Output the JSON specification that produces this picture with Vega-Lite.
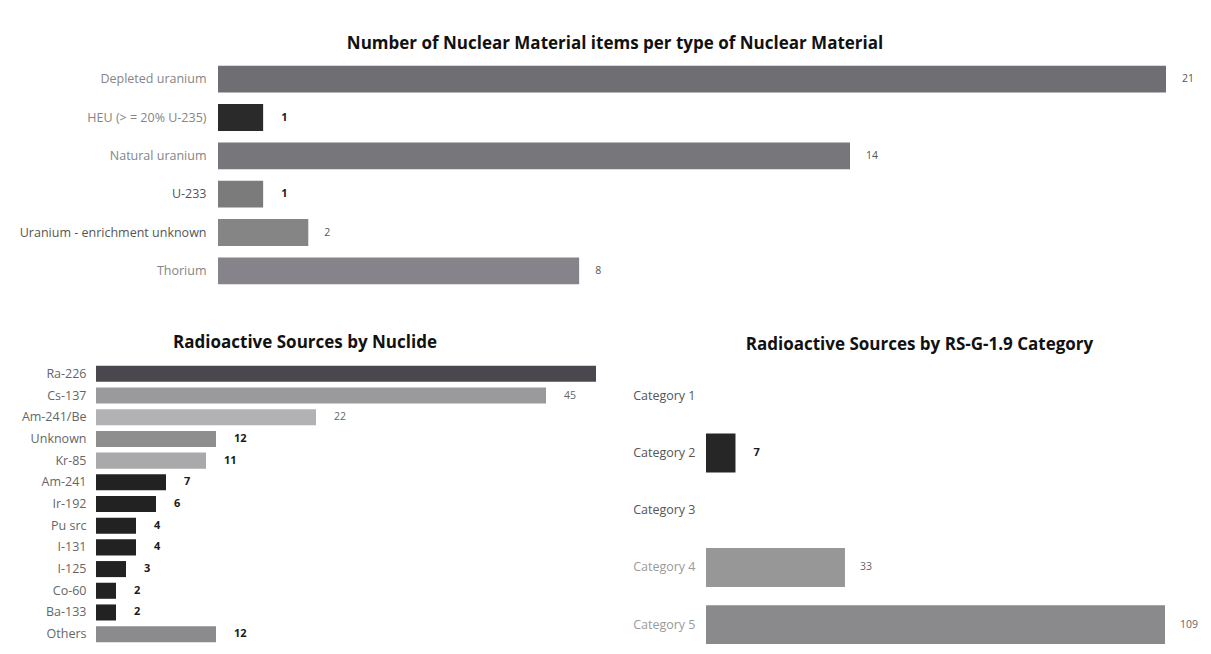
{
  "$schema": "https://vega.github.io/schema/vega-lite/v6.json",
  "background": "white",
  "padding": {"left": 18, "top": 35, "right": 0, "bottom": 0},
  "config": {
    "view": {"stroke": null},
    "font": "Open Sans",
    "title": {"font": "Open Sans", "fontSize": 17, "fontWeight": "bold", "color": "#111111", "anchor": "middle", "frame": "group"},
    "axis": {"labelFont": "Open Sans", "labelColor": "#6e6e6e", "labelFontSize": 12.5}
  },
  "resolve": {"scale": {"color": "independent"}},
  "columns": 1,
  "align": "none",
  "spacing": 44,
  "concat": [
    {
      "title": {"text": "Number of Nuclear Material items per type of Nuclear Material", "dx": -16, "offset": 7},
      "width": 1070,
      "height": 230,
      "data": {"values": [
        {"type": "Depleted uranium", "count": 21},
        {"type": "HEU (> = 20% U-235)", "count": 1},
        {"type": "Natural uranium", "count": 14},
        {"type": "U-233", "count": 1},
        {"type": "Uranium - enrichment unknown", "count": 2},
        {"type": "Thorium", "count": 8}
      ]},
      "encoding": {
        "y": {"field": "type", "type": "nominal", "sort": null,
              "scale": {"paddingInner": 0.3, "paddingOuter": 0.15},
              "axis": {"title": null, "ticks": false, "domain": false, "offset": -122, "labelPadding": 12, "labelLimit": 220,
                       "labelColor": {"condition": {"test": "datum.value === 'U-233' || datum.value === 'Uranium - enrichment unknown'", "value": "#555555"}, "value": "#858585"}}},
        "x": {"field": "count", "type": "quantitative", "scale": {"domain": [0, 21], "range": [122, 1070]}, "axis": null}
      },
      "layer": [
        {"mark": {"type": "bar"},
         "encoding": {"color": {"field": "type", "type": "nominal", "legend": null,
           "scale": {"domain": ["Depleted uranium", "HEU (> = 20% U-235)", "Natural uranium", "U-233", "Uranium - enrichment unknown", "Thorium"],
                     "range": ["#6f6e72", "#2a2a2a", "#77767a", "#7b7b7b", "#858585", "#86848a"]}}}},
        {"transform": [{"filter": {"field": "type", "oneOf": ["HEU (> = 20% U-235)", "U-233"]}}],
         "mark": {"type": "text", "align": "left", "dx": 18, "fontWeight": "bold", "fontSize": 11, "color": "#1a1a1a"},
         "encoding": {"text": {"field": "count", "type": "quantitative"}}},
        {"transform": [{"filter": {"not": {"field": "type", "oneOf": ["HEU (> = 20% U-235)", "U-233"]}}}],
         "mark": {"type": "text", "align": "left", "dx": 16, "fontSize": 10.5, "color": "#555555"},
         "encoding": {"text": {"field": "count", "type": "quantitative"}}}
      ]
    },
    {
      "resolve": {"scale": {"color": "independent"}},
      "columns": 2,
      "align": "none",
      "spacing": 30,
      "concat": [
        {
          "title": {"text": "Radioactive Sources by Nuclide", "dx": -41, "offset": 11},
          "width": 500,
          "height": 282,
          "data": {"values": [
            {"nuclide": "Ra-226", "count": 50},
            {"nuclide": "Cs-137", "count": 45},
            {"nuclide": "Am-241/Be", "count": 22},
            {"nuclide": "Unknown", "count": 12},
            {"nuclide": "Kr-85", "count": 11},
            {"nuclide": "Am-241", "count": 7},
            {"nuclide": "Ir-192", "count": 6},
            {"nuclide": "Pu src", "count": 4},
            {"nuclide": "I-131", "count": 4},
            {"nuclide": "I-125", "count": 3},
            {"nuclide": "Co-60", "count": 2},
            {"nuclide": "Ba-133", "count": 2},
            {"nuclide": "Others", "count": 12}
          ]},
          "encoding": {
            "y": {"field": "nuclide", "type": "nominal", "sort": null,
                  "scale": {"paddingInner": 0.26, "paddingOuter": 0.13},
                  "axis": {"title": null, "ticks": false, "domain": false, "labelPadding": 10, "minExtent": 78, "maxExtent": 78, "labelColor": "#666666"}},
            "x": {"field": "count", "type": "quantitative", "scale": {"domain": [0, 50]}, "axis": null}
          },
          "layer": [
            {"mark": {"type": "bar"},
             "encoding": {"color": {"field": "nuclide", "type": "nominal", "legend": null,
               "scale": {"domain": ["Ra-226", "Cs-137", "Am-241/Be", "Unknown", "Kr-85", "Am-241", "Ir-192", "Pu src", "I-131", "I-125", "Co-60", "Ba-133", "Others"],
                         "range": ["#4a484e", "#9a999c", "#b2b1b4", "#8e8e8e", "#a9a8ab", "#222222", "#222222", "#222222", "#222222", "#222222", "#222222", "#222222", "#8b8a8d"]}}}},
            {"transform": [{"filter": {"not": {"field": "nuclide", "oneOf": ["Ra-226", "Cs-137", "Am-241/Be"]}}}],
             "mark": {"type": "text", "align": "left", "dx": 18, "fontWeight": "bold", "fontSize": 11, "color": "#1a1a1a"},
             "encoding": {"text": {"field": "count", "type": "quantitative"}}},
            {"transform": [{"filter": {"field": "nuclide", "oneOf": ["Ra-226", "Cs-137", "Am-241/Be"]}}],
             "mark": {"type": "text", "align": "left", "dx": 18, "fontSize": 10.5, "color": "#666666", "clip": true},
             "encoding": {"text": {"field": "count", "type": "quantitative"}}}
          ]
        },
        {
          "title": {"text": "Radioactive Sources by RS-G-1.9 Category", "dx": -16, "offset": 9},
          "width": 459,
          "height": 290,
          "data": {"values": [
            {"category": "Category 1", "count": 0},
            {"category": "Category 2", "count": 7},
            {"category": "Category 3", "count": 0},
            {"category": "Category 4", "count": 33},
            {"category": "Category 5", "count": 109}
          ]},
          "encoding": {
            "y": {"field": "category", "type": "nominal", "sort": null,
                  "scale": {"paddingInner": 0.32, "paddingOuter": 0.195, "align": 0.6},
                  "axis": {"title": null, "ticks": false, "domain": false, "labelPadding": 11, "minExtent": 80, "maxExtent": 80,
                           "labelColor": {"condition": {"test": "datum.value === 'Category 4' || datum.value === 'Category 5'", "value": "#9a9a9a"}, "value": "#555555"}}},
            "x": {"field": "count", "type": "quantitative", "scale": {"domain": [0, 109]}, "axis": null}
          },
          "layer": [
            {"mark": {"type": "bar"},
             "encoding": {"color": {"field": "category", "type": "nominal", "legend": null,
               "scale": {"domain": ["Category 1", "Category 2", "Category 3", "Category 4", "Category 5"],
                         "range": ["#888888", "#262626", "#888888", "#979797", "#8a898c"]}}}},
            {"transform": [{"filter": {"field": "category", "oneOf": ["Category 2"]}}],
             "mark": {"type": "text", "align": "left", "dx": 18, "fontWeight": "bold", "fontSize": 11, "color": "#1a1a1a"},
             "encoding": {"text": {"field": "count", "type": "quantitative"}}},
            {"transform": [{"filter": {"field": "category", "oneOf": ["Category 4", "Category 5"]}}],
             "mark": {"type": "text", "align": "left", "dx": 15, "fontSize": 10.5, "color": "#666666"},
             "encoding": {"text": {"field": "count", "type": "quantitative"}}}
          ]
        }
      ]
    }
  ]
}
